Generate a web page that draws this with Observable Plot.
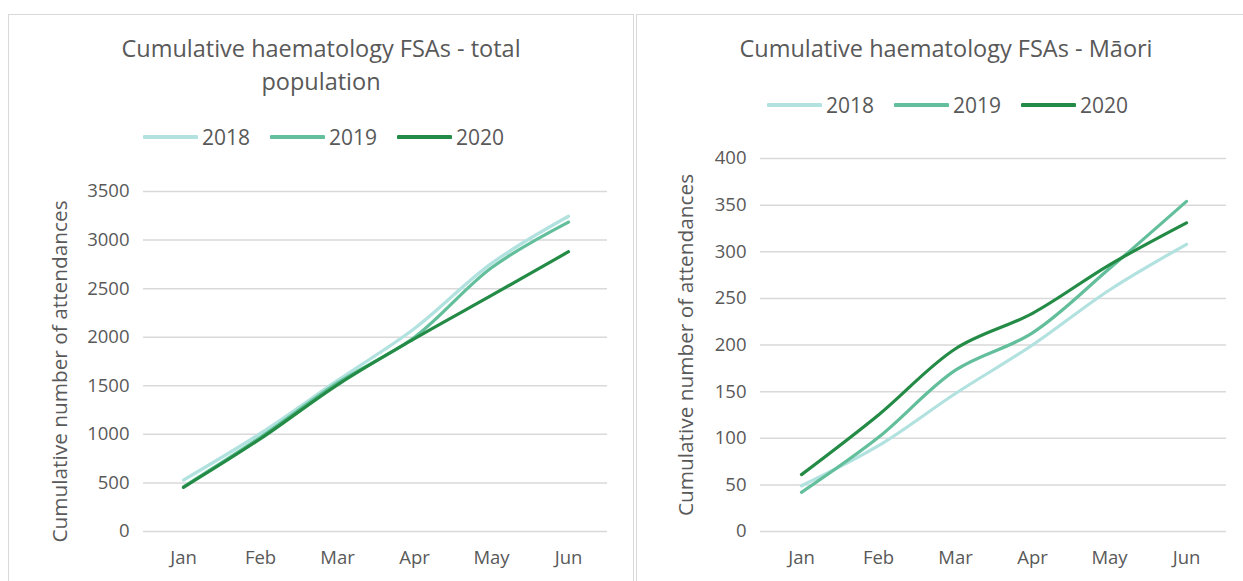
<!DOCTYPE html>
<html>
<head>
<meta charset="utf-8">
<script src="https://cdn.jsdelivr.net/npm/d3@7"></script>
<script src="https://cdn.jsdelivr.net/npm/@observablehq/plot@0.6"></script>
<style>
  html, body { margin: 0; padding: 0; background: #fff; }
  #wrap { position: relative; width: 1243px; height: 581px; overflow: hidden; background: #fff; font-family: "Open Sans", sans-serif; color: #595959; }
  .panel { position: absolute; border: 1px solid #d9d9d9; box-sizing: border-box; }
  .title { position: absolute; text-align: center; font-size: 23.5px; line-height: 33px; color: #595959; white-space: nowrap; }
  .legend { position: absolute; display: flex; align-items: center; font-size: 21px; color: #595959; white-space: nowrap; }
  .legend .item { display: flex; align-items: center; margin-right: 20px; }
  .legend svg { margin-right: 4px; }
  .chart { position: absolute; }
</style>
</head>
<body>
<div id="wrap">
  <div class="panel" style="left:8px; top:14px; width:626px; height:600px;"></div>
  <div class="panel" style="left:636px; top:14px; width:620px; height:600px;"></div>
  <div class="title" id="t1" style="left:8px; width:626px; top:32px;"></div>
  <div class="title" id="t2" style="left:636px; width:620px; top:32px;"></div>
  <div class="legend" id="lg1" style="left:143px; top:123px;"></div>
  <div class="legend" id="lg2" style="left:767px; top:91px;"></div>
  <div class="chart" id="c1" style="left:0px; top:160px;"></div>
  <div class="chart" id="c2" style="left:636px; top:130px;"></div>
</div>
<script>
const months = ["Jan", "Feb", "Mar", "Apr", "May", "Jun"];
const years = ["2018", "2019", "2020"];
const colors = ["#b2e2df", "#63bf9b", "#238b45"];

const total2018 = [530, 1010, 1555, 2090, 2760, 3245];
const total2019 = [460, 970, 1530, 2000, 2715, 3185];
const total2020 = [455, 955, 1510, 1985, 2430, 2880];

const maori2018 = [49, 92, 148, 200, 259, 308];
const maori2019 = [42, 101, 173, 213, 282, 354];
const maori2020 = [61, 125, 196, 234, 286, 331];

const totalTicks = [0, 500, 1000, 1500, 2000, 2500, 3000, 3500];
const maoriTicks = [0, 50, 100, 150, 200, 250, 300, 350, 400];

const title1 = ["Cumulative haematology FSAs - total", "population"];
const title2 = ["Cumulative haematology FSAs - Māori"];
const yLabel = "Cumulative number of attendances";

function toRows(series) {
  const rows = [];
  series.forEach((vals, i) => vals.forEach((v, j) => rows.push({year: years[i], month: months[j], value: v})));
  return rows;
}

function legend(el) {
  years.forEach((y, i) => {
    const item = document.createElement("div");
    item.className = "item";
    item.innerHTML = `<svg width="55" height="6"><line x1="1.5" y1="3" x2="53.5" y2="3" stroke="${colors[i]}" stroke-width="4" stroke-linecap="round"/></svg><span>${y}</span>`;
    el.appendChild(item);
  });
}

function chart({data, ticks, yMax, width, height, ml, mr, mt, mb, labelDx, labelDy}) {
  return Plot.plot({
    width, height,
    marginLeft: ml, marginRight: mr, marginTop: mt, marginBottom: mb,
    style: {fontFamily: "Open Sans", fontSize: "18.5px", color: "#595959", background: "transparent", overflow: "visible"},
    x: {type: "point", domain: months, padding: 0.5, label: null},
    y: {domain: [0, yMax], label: null},
    color: {domain: years, range: colors},
    marks: [
      Plot.ruleY(ticks, {stroke: "#d9d9d9", strokeWidth: 1.5}),
      Plot.axisY({ticks, tickSize: 0, tickPadding: 14, tickFormat: d => String(d), label: null, fontSize: 18.5}),
      Plot.axisX({tickSize: 0, tickPadding: 19, label: null, fontSize: 18.5}),
      Plot.line(data, {x: "month", y: "value", z: "year", stroke: "year", strokeWidth: 3.2, curve: "catmull-rom", strokeLinecap: "round"}),
      Plot.text([yLabel], {frameAnchor: "left", textAnchor: "middle", rotate: -90, dx: labelDx, dy: labelDy, fontSize: 20.8, fill: "#595959"})
    ]
  });
}

document.getElementById("t1").innerHTML = title1.join("<br>");
document.getElementById("t2").innerHTML = title2.join("<br>");
legend(document.getElementById("lg1"));
legend(document.getElementById("lg2"));

document.getElementById("c1").appendChild(chart({
  data: toRows([total2018, total2019, total2020]), ticks: totalTicks, yMax: 3500,
  width: 634, height: 421, ml: 143, mr: 27, mt: 31, mb: 50, labelDx: -83, labelDy: 10
}));
document.getElementById("c2").appendChild(chart({
  data: toRows([maori2018, maori2019, maori2020]), ticks: maoriTicks, yMax: 400,
  width: 607, height: 451, ml: 124, mr: 17, mt: 28, mb: 50, labelDx: -74, labelDy: 0
}));
</script>
</body>
</html>
